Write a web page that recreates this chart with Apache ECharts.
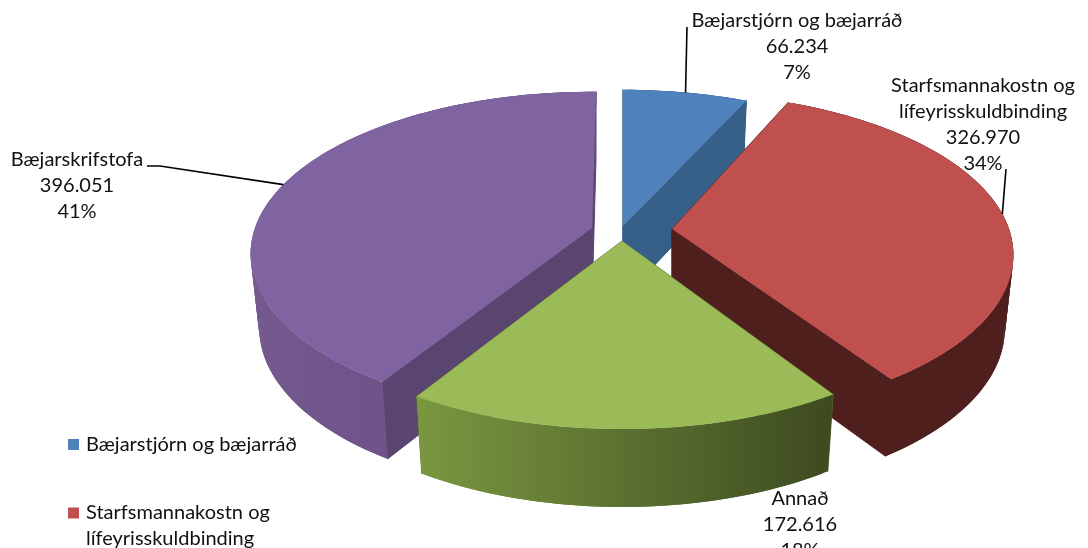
<!DOCTYPE html>
<html lang="is">
<head>
  <meta charset="UTF-8">
  <title>Skipting kostnaðar</title>
  <style>
    html, body { margin: 0; padding: 0; background: #fff; overflow: hidden; }
    #chart { width: 1088px; height: 548px; }
  </style>
</head>
<body>
  <div id="chart"></div>
  <script src="https://cdn.jsdelivr.net/npm/echarts@6"></script>
  <script>
    var categories = ['Bæjarstjórn og bæjarráð', 'Starfsmannakostn og\nlífeyrisskuldbinding', 'Annað', 'Bæjarskrifstofa'];
    var values = [66234, 326970, 172616, 396051];

    // layout of the fake 3d pie
    var R = 337, RQ = 158, P = 0.16, DEPTH = 73;
    var FONT = '20px Lato, sans-serif';
    var apexes = [[623, 226], [672, 229], [622, 241], [592, 228]];
    var angleNudge = [0, -1.5, 0, 0.8]; // degrees, the original's perspective is not quite regular
    var labelPos = [[797, 8], [983, 73], [800, 486], [77, 147]];
    var leaders = [[[687, 27]], [[1006, 169]], [], [[147, 166], [160, 166]]];
    var topColors = ['#4F81BD', '#C0504D', '#9BBB59', '#8064A2'];
    var cutColors = ['#376089', '#4F1F1E', '#5E7530', '#5A4570'];
    var wallColors = [
      ['#376089', '#376089'],
      ['#4F1F1E', '#4F1F1E'],
      ['#7A9740', '#3D4A20'],
      ['#75598F', '#614A7D']
    ];
    var drawOrder = [0, 3, 1, 2];

    var total = values.reduce(function (a, b) { return a + b; }, 0);
    var angles = [];
    var sum = 0;
    values.forEach(function (v, i) {
      var n = angleNudge[i] * Math.PI / 180;
      angles.push([sum / total * 2 * Math.PI + n, (sum + v) / total * 2 * Math.PI + n]);
      sum += v;
    });

    function topPoint(i, a) {
      var z = -Math.cos(a);
      var s = 1 / (1 - P * z);
      return [apexes[i][0] + R * Math.sin(a) * s, apexes[i][1] + RQ * z * s];
    }

    function bottomOf(i, p) {
      return [
        apexes[i][0] + (p[0] - apexes[i][0]) * 0.975,
        apexes[i][1] + (p[1] - apexes[i][1]) * 1.026 + DEPTH
      ];
    }

    function arc(i) {
      var pts = [];
      var n = Math.ceil((angles[i][1] - angles[i][0]) * 180 / Math.PI);
      for (var k = 0; k <= n; k++) {
        pts.push(topPoint(i, angles[i][0] + (angles[i][1] - angles[i][0]) * k / n));
      }
      return pts;
    }

    function fmt(v) {
      return String(v).replace(/\B(?=(\d{3})+$)/g, '.');
    }

    function poly(points, fill) {
      return { type: 'polygon', shape: { points: points }, style: { fill: fill } };
    }

    function cutFace(points, fill) {
      return { type: 'polygon', shape: { points: points }, style: { fill: fill, stroke: fill, lineWidth: 1 } };
    }

    function renderSlice(i) {
      var top = arc(i);
      var apex = apexes[i];
      var apexB = bottomOf(i, apex);
      var bottom = top.map(function (p) { return bottomOf(i, p); });
      var first = top[0], last = top[top.length - 1];
      var xs = top.map(function (p) { return p[0]; });
      var grad = new echarts.graphic.LinearGradient(Math.min.apply(null, xs), 0, Math.max.apply(null, xs), 0, [
        { offset: 0, color: wallColors[i][0] },
        { offset: 1, color: wallColors[i][1] }
      ], true);
      var children = [
        cutFace([apex, first, bottom[0], apexB], cutColors[i]),
        cutFace([apex, last, bottom[bottom.length - 1], apexB], cutColors[i])
      ];
      // outer wall as overlapping quads, one big polygon leaves a notch at the silhouette
      for (var k = 0; k < top.length - 1; k++) {
        var e = Math.min(k + 2, top.length - 1);
        children.push(poly([top[k], top[e], bottom[e], bottom[k]], grad));
      }
      children.push(poly([apex].concat(top), topColors[i]));
      return { type: 'group', children: children };
    }

    function renderLabel(i) {
      var mid = (angles[i][0] + angles[i][1]) / 2;
      var children = [];
      if (leaders[i].length) {
        children.push({
          type: 'polyline',
          shape: { points: leaders[i].concat([topPoint(i, mid)]) },
          style: { stroke: '#000', lineWidth: 1.6, fill: null }
        });
      }
      children.push({
        type: 'text',
        style: {
          text: categories[i] + '\n' + fmt(values[i]) + '\n' + Math.round(values[i] / total * 100) + '%',
          x: labelPos[i][0], y: labelPos[i][1],
          align: 'center', verticalAlign: 'top',
          font: FONT, lineHeight: 26, fill: '#111'
        }
      });
      return { type: 'group', children: children };
    }

    var series = drawOrder.map(function (i) {
      return {
        type: 'custom',
        name: categories[i],
        coordinateSystem: 'none',
        silent: true,
        animation: false,
        itemStyle: { color: topColors[i] },
        data: [values[i]],
        renderItem: function () { return renderSlice(i); }
      };
    });

    // labels go last so that nothing covers them
    series.push({
      type: 'custom',
      coordinateSystem: 'none',
      silent: true,
      animation: false,
      data: values,
      renderItem: function (params) { return renderLabel(params.dataIndex); }
    });

    // empty subpaths stretch the icon box, so the square sits on the first text line
    var iconCentered = 'path://M0 13H11V24H0Z M0 0H0Z M0 37H0Z';
    var iconFirstLine = 'path://M0 0H11V11H0Z M0 37H0Z';

    var chart = echarts.init(document.getElementById('chart'));
    chart.setOption({
      backgroundColor: '#fff',
      animation: false,
      legend: {
        data: categories.map(function (name) {
          return { name: name, icon: name.indexOf('\n') >= 0 ? iconFirstLine : iconCentered };
        }),
        orient: 'vertical',
        left: 68,
        top: 426,
        height: 500,
        padding: 0,
        itemGap: 37,
        itemWidth: 11,
        itemHeight: 37,
        selectedMode: false,
        textStyle: { fontFamily: 'Lato, sans-serif', fontSize: 20, lineHeight: 26, color: '#111', padding: [0, 0, 0, 2] }
      },
      series: series
    });
  </script>
</body>
</html>
